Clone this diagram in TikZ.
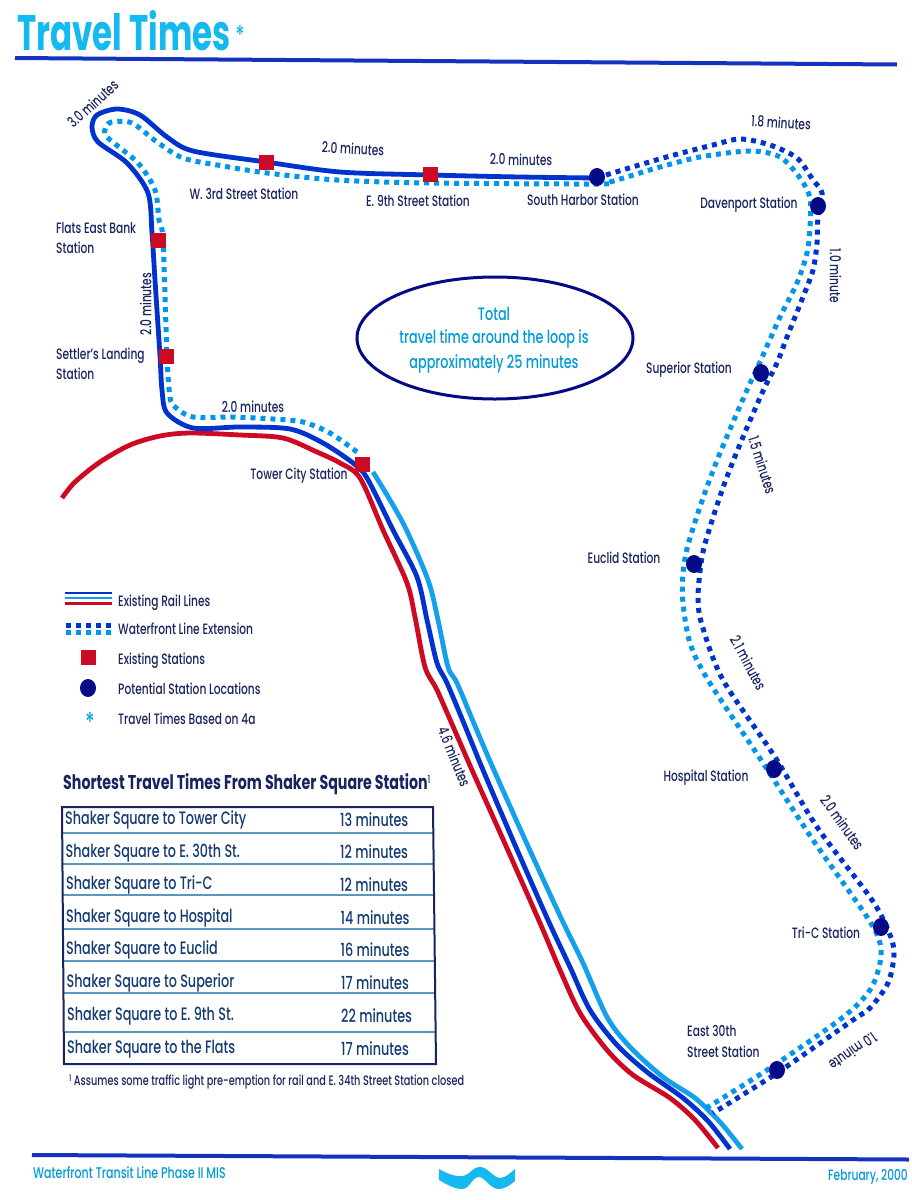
\documentclass[tikz,border=0pt]{standalone}
\usepackage{fontspec}
\setmainfont{Poppins Medium}[FakeStretch=0.71,BoldFont={Poppins Bold}]
\newfontfamily\titlefont{Poppins Bold}[FakeStretch=0.65]
\definecolor{navytxt}{RGB}{25,35,95}
\definecolor{tabtxt}{RGB}{20,60,115}
\definecolor{railblue}{RGB}{0,50,205}
\definecolor{railcyan}{RGB}{20,160,235}
\definecolor{railred}{RGB}{205,10,35}
\definecolor{dotlight}{RGB}{0,150,235}
\definecolor{dotdark}{RGB}{0,50,205}
\definecolor{stnnavy}{RGB}{5,10,135}
\definecolor{titlecyan}{RGB}{20,185,240}
\definecolor{footcyan}{RGB}{0,155,215}
\definecolor{rulecol}{RGB}{20,50,190}
\definecolor{seprow}{RGB}{90,150,190}
\newcommand{\fs}[1]{\fontsize{#1}{#1}\selectfont}
\tikzset{
  rail/.style={line width=4.8pt},
  dotted line/.style={line width=5pt,dash pattern=on 5pt off 5pt},
  smoothed/.style={smooth,tension=0.5},
  lab/.style={text=navytxt,font=\fs{15},inner sep=0pt,text height=10.5pt,text depth=0pt},
  stnsq/.style={fill=railred,draw=none,minimum size=15pt,inner sep=0pt,rectangle},
  stncirc/.style={fill=stnnavy,draw=none,minimum width=16pt,minimum height=18pt,inner sep=0pt,ellipse},
  rowl/.style={text=tabtxt,font=\fs{18},inner sep=0pt,anchor=west,text height=12.6pt,text depth=0pt},
  rowr/.style={text=tabtxt,font=\fs{18},inner sep=0pt,anchor=west,text height=12.6pt,text depth=0pt},
}
\usetikzlibrary{shapes.geometric}
\begin{document}
\begin{tikzpicture}[x=1pt,y=-1pt]
\useasboundingbox (0,0) rectangle (912,1200);
\fill[white] (0,0) rectangle (912,1200);
% rules
\draw[line width=4pt,rulecol] (15,58) -- (897,64.5);
\draw[line width=4pt,rulecol] (32,1155) -- (909,1159.5);
% title
\node[inner sep=0pt,anchor=west,text=titlecyan,font=\titlefont\fs{50},text height=35pt,text depth=0pt] (title) at (17,33) {Travel Times};
\node[inner sep=0pt,text=titlecyan,font=\fs{26}] (titlestar) at (240,35) {*};
% rail lines
\draw[rail,railred] plot[smoothed] coordinates {(62,498)(75,482)(100,462)(130,445)(160,436)(190,433)(240,435)(283,438)(317,452)(340,463)(360,478)(383,530)(407,583)(415,617)(425,667)(437,690)(455,731)(472,770)(506,846)(540,923)(560,970)(580,1013)(607,1050)(633,1075)(670,1098)(695,1120)(718,1148)};
\draw[rail,railcyan] plot[smoothed] coordinates {(373,472)(403,523)(428,580)(438,620)(448,667)(457,683)(475,726)(493,768)(527,844)(562,920)(583,963)(607,1017)(630,1047)(663,1077)(695,1098)(720,1122)(742,1149)};
\draw[rail,railblue] plot[smoothed] coordinates {(597,178)(520,177)(430,175)(340,172)(266,162)(193,151)(167,137)(140,115)(117,109)(97,115)(92,127)(98,142)(127,163)(148,193)(152,233)(155,280)(160,356)(162,390)(167,413)(193,428)(240,427)(290,429)(323,443)(353,463)(367,478)(393,530)(417,577)(427,620)(437,663)(447,683)(465,726)(483,770)(515,845)(548,920)(570,967)(590,1010)(617,1045)(647,1072)(683,1098)(708,1121)(730,1149)};
% extension dotted
\draw[dotted line,dotlight] plot[smoothed] coordinates {(357,452)(330,433)(303,422)(273,419)(233,417)(193,417)(175,407)(170,397)(167,356)(163,240)(159,220)(155,190)(138,163)(107,137)(106,127)(112,122)(132,123)(157,142)(183,158)(223,166)(267,173)(337,180)(430,183)(597,184)(610,182)(660,167)(700,157)(750,151)(780,157)(800,178)(810,198)(810,227)(807,253)(797,283)(780,317)(760,362)(747,390)(720,453)(703,498)(688,545)(683,573)(683,603)(690,643)(708,680)(763,763)(813,840)(867,917)(880,943)(880,963)(870,990)(842,1018)(767,1070)(703,1110)};
\draw[dotted line,dotdark] plot[smoothed] coordinates {(606,175)(663,158)(713,145)(740,139)(770,145)(797,158)(813,180)(822,193)(818,217)(817,243)(813,270)(803,297)(787,337)(777,363)(763,391)(743,437)(725,482)(710,527)(702,557)(698,597)(702,625)(723,680)(775,757)(817,827)(872,900)(890,935)(894,955)(888,983)(870,1008)(853,1020)(777,1073)(713,1113)};
% stations
\node[stnsq] (w3) at (266,162) {};
\node[stnsq] (e9) at (430,174) {};
\node[stnsq] (flats) at (158,240) {};
\node[stnsq] (settlers) at (166,356) {};
\node[stnsq] (tower) at (362,464) {};
\node[stncirc] (harbor) at (597,177) {};
\node[stncirc] (davenport) at (818,206) {};
\node[stncirc] (superior) at (761,373) {};
\node[stncirc] (euclid) at (694,564) {};
\node[stncirc] (hospital) at (774,769) {};
\node[stncirc] (tric) at (881,927) {};
\node[stncirc] (e30) at (777,1070) {};
% station labels
\node[lab] (lw3) at (244,194) {W. 3rd Street Station};
\node[lab] (le9) at (418,201) {E. 9th Street Station};
\node[lab] (lharbor) at (583,200) {South Harbor Station};
\node[lab] (ldav) at (749,203) {Davenport Station};
\node[lab,anchor=west] (lflats1) at (56,228) {Flats East Bank};
\node[lab,anchor=west] (lflats2) at (56,248) {Station};
\node[lab,anchor=west] (lset1) at (56,354) {Settler's Landing};
\node[lab,anchor=west] (lset2) at (56,374) {Station};
\node[lab] (ltower) at (299,474) {Tower City Station};
\node[lab] (lsup) at (689,368) {Superior Station};
\node[lab] (leuc) at (624,558) {Euclid Station};
\node[lab] (lhos) at (706,776) {Hospital Station};
\node[lab] (ltri) at (826,933) {Tri-C Station};
\node[lab,anchor=west] (le301) at (687,1031) {East 30th};
\node[lab,anchor=west] (le302) at (687,1052) {Street Station};
% time labels
\node[lab,rotate=42] (t1) at (93,104) {3.0 minutes};
\node[lab,rotate=-3] (t2) at (353,149) {2.0 minutes};
\node[lab,rotate=-1] (t3) at (521,160) {2.0 minutes};
\node[lab,rotate=-4] (t4) at (781,123) {1.8 minutes};
\node[lab,rotate=-90] (t5) at (835,276) {1.0 minute};
\node[lab,rotate=-72] (t6) at (762,465) {1.5 minutes};
\node[lab,rotate=-62] (t7) at (748,663) {2.1 minutes};
\node[lab,rotate=-54] (t8) at (842,823) {2.0 minutes};
\node[lab,rotate=215] (t9) at (853,1051) {1.0 minute};
\node[lab,rotate=90] (t10) at (146,304) {2.0 minutes};
\node[lab] (t11) at (253,407) {2.0 minutes};
\node[lab,rotate=-68] (t12) at (454,757) {4.6 minutes};
% ellipse
\node[ellipse,draw=stnnavy,line width=3pt,minimum width=276pt,minimum height=122pt,inner sep=0pt] (loop) at (495,338) {};
\node[inner sep=0pt,text=footcyan,font=\fs{18}] (l1) at (494,314) {Total};
\node[inner sep=0pt,text=footcyan,font=\fs{18}] (l2) at (494,339) {travel time around the loop is};
\node[inner sep=0pt,text=footcyan,font=\fs{18}] (l3) at (494,364) {approximately 25 minutes};
% legend
\coordinate (la) at (65,593); \coordinate (lb) at (112,593);
\draw[line width=2.5pt,railblue] (la) -- (lb);
\draw[line width=2.5pt,railcyan] (65,598) -- (112,598);
\draw[line width=3pt,railred] (65,603.5) -- (112,603.5);
\draw[dotted line,dotlight] (66,632) -- (114,632);
\draw[dotted line,railblue] (66,625) -- (114,625);
\node[stnsq] (legsq) at (88,657) {};
\node[stncirc] (legcirc) at (88,688) {};
\node[inner sep=0pt,text=railcyan,font=\fs{26}] (legstar) at (90,722) {*};
\node[lab,anchor=west] (leg1) at (118,601) {Existing Rail Lines};
\node[lab,anchor=west] (leg2) at (118,629) {Waterfront Line Extension};
\node[lab,anchor=west] (leg3) at (118,659) {Existing Stations};
\node[lab,anchor=west] (leg4) at (118,689) {Potential Station Locations};
\node[lab,anchor=west] (leg5) at (118,719) {Travel Times Based on 4a};
% table
\node[inner sep=0pt,anchor=west,text=navytxt,font=\bfseries\fs{20},text height=14pt,text depth=0pt] (heading) at (63,782) {Shortest Travel Times From Shaker Square Station\raisebox{6pt}{\mdseries\fs{11}1}};
\draw[line width=1.2pt,seprow] (63,833) -- (434,833);
\draw[line width=1.2pt,seprow] (63,864) -- (434,864);
\draw[line width=1.2pt,seprow] (63,895) -- (434,895);
\draw[line width=1.2pt,seprow] (63,929) -- (434,929);
\draw[line width=1.2pt,seprow] (64,961) -- (435,961);
\draw[line width=1.2pt,seprow] (64,993) -- (435,993);
\draw[line width=1.2pt,seprow] (65,1032) -- (435,1032);
\draw[line width=2pt,navytxt] (62,807) -- (433,807) -- (436,1064) -- (64,1064) -- cycle;
\node[rowl] (a1) at (65,818) {Shaker Square to Tower City};
\node[rowl] (a2) at (65.5,851) {Shaker Square to E. 30th St.};
\node[rowl] (a3) at (66,883) {Shaker Square to Tri-C};
\node[rowl] (a4) at (66,916) {Shaker Square to Hospital};
\node[rowl] (a5) at (66,948) {Shaker Square to Euclid};
\node[rowl] (a6) at (66.5,981) {Shaker Square to Superior};
\node[rowl] (a7) at (67,1014) {Shaker Square to E. 9th  St.};
\node[rowl] (a8) at (67,1047) {Shaker Square to the Flats};
\node[rowr] (b1) at (340,820) {13 minutes};
\node[rowr] (b2) at (340,852.5) {12 minutes};
\node[rowr] (b3) at (340,885) {12 minutes};
\node[rowr] (b4) at (340.5,918) {14 minutes};
\node[rowr] (b5) at (340.5,950.5) {16 minutes};
\node[rowr] (b6) at (341,983) {17 minutes};
\node[rowr] (b7) at (341,1016) {22 minutes};
\node[rowr] (b8) at (341,1049) {17 minutes};
\node[lab,anchor=west,font=\fs{13.7}] (foot) at (69,1080) {\raisebox{4pt}{\fs{9}1} Assumes some traffic light pre-emption for rail and E. 34th Street Station closed};
% footer
\node[inner sep=0pt,anchor=west,text=footcyan,font=\fs{15.5}] (fl) at (33,1173) {Waterfront Transit Line Phase II MIS};
\node[inner sep=0pt,anchor=east,text=footcyan,font=\fs{15}] (fr) at (908,1177) {February, 2000};
\fill[titlecyan] (439,1169) .. controls (448,1174) and (456,1177) .. (463,1176) .. controls (470,1175) and (472,1167) .. (480,1167) .. controls (488,1167) and (492,1177) .. (500,1178) .. controls (506,1178) and (511,1172) .. (515,1169) -- (515,1181) .. controls (510,1185) and (505,1189) .. (499,1189) .. controls (490,1189) and (486,1178) .. (479,1177) .. controls (472,1177) and (470,1189) .. (462,1189) .. controls (454,1189) and (446,1184) .. (439,1180) -- cycle;
\end{tikzpicture}
\end{document}
